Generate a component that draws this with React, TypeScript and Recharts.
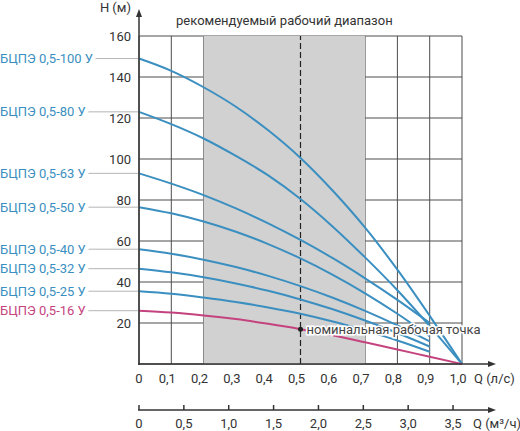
import {
  LineChart,
  Line,
  XAxis,
  YAxis,
  CartesianGrid,
  ReferenceArea,
  ReferenceLine,
  ReferenceDot,
} from "recharts";

// Q, l/s
const flow = [0, 0.1, 0.2, 0.3, 0.4, 0.5, 0.6, 0.7, 0.8, 0.9, 1.0];
// H, m for each pump (null = curve stops)
const head100 = [149, 143, 135, 125.5, 114, 100.5, 84.5, 66.5, 46, 23.5, 0];
const head80 = [123, 117, 110, 101.5, 92, 80.5, 67, 52, 36, 18.5, 0];
const head63 = [93, 88, 82.4, 75.9, 68.6, 60.5, 51.6, 41.8, 31.3, 20, null];
const head50 = [76.5, 73.5, 69.5, 64.5, 58.5, 51.5, 43.5, 34.5, 24.5, 13.5, null];
const head40 = [56, 53.8, 50.9, 47.3, 43, 38, 32.3, 25.9, 18.8, 11, null];
const head32 = [46.5, 44.7, 42.3, 39.3, 35.7, 31.5, 26.7, 21.2, 15.1, 8.5, null];
const head25 = [35.5, 34.3, 32.4, 30.2, 27.6, 24.5, 20.7, 16.3, 11.5, 6, null];
const head16 = [26, 25.1, 23.7, 21.9, 19.6, 17, 14, 10.6, 7.1, 3.5, 0];

const pumpNames = [
  "БЦПЭ 0,5-100 У",
  "БЦПЭ 0,5-80 У",
  "БЦПЭ 0,5-63 У",
  "БЦПЭ 0,5-50 У",
  "БЦПЭ 0,5-40 У",
  "БЦПЭ 0,5-32 У",
  "БЦПЭ 0,5-25 У",
  "БЦПЭ 0,5-16 У",
];
const yTicks = [20, 40, 60, 80, 100, 120, 140, 160];
// second scale, m³/h (1 l/s = 3.6 m³/h)
const m3Ticks = [0, 0.5, 1.0, 1.5, 2.0, 2.5, 3.0, 3.5];
const M3H_PER_LPS = 3.6;

const rangeFrom = 0.2;
const rangeTo = 0.7;
const nominalQ = 0.5;

const BLUE = "#3b8fc0";
const PINK = "#c4437f";
const FONT = "Roboto, sans-serif";

const heads = [head100, head80, head63, head50, head40, head32, head25, head16];
const series = heads.map((values, i) => ({
  key: "p" + i,
  name: pumpNames[i],
  values,
  color: i === heads.length - 1 ? PINK : BLUE,
}));

const data = flow.map((q, i) => {
  const row: any = { q };
  series.forEach((s) => (row[s.key] = s.values[i]));
  return row;
});

const comma = (v: number) => (v === 0 ? "0" : v.toFixed(1).replace(".", ","));

function QTick(props: any) {
  const { x, y, payload } = props;
  const shift = payload.value === 0 ? 0 : -4;
  return (
    <text x={x + shift} y={y + 19} textAnchor="middle" fill="#333" fontSize={13} fontFamily={FONT}>
      {comma(payload.value)}
    </text>
  );
}

function M3Tick(props: any) {
  const { x, y, payload } = props;
  return (
    <g>
      <line x1={x} x2={x} y1={y - 5} y2={y} stroke="#333" strokeWidth={1.5} />
      <text x={x} y={y + 18} textAnchor="middle" fill="#333" fontSize={13} fontFamily={FONT}>
        {comma(Math.round(payload.value * M3H_PER_LPS * 10) / 10)}
      </text>
    </g>
  );
}

// pump name on the left, with a grey leader line to the axis
function startLabel(name: string, color: string) {
  return (p: any) => {
    if (p.index !== 0) return null;
    const x = p.x ?? p.viewBox?.x;
    const y = p.y ?? p.viewBox?.y;
    return (
      <g key={name}>
        <line x1={0} x2={x} y1={y} y2={y} stroke="#b5b5b5" strokeWidth={1} />
        <text
          x={0}
          y={y}
          dy="0.35em"
          fill={color}
          fontSize={13}
          fontFamily={FONT}
          stroke="#fff"
          strokeWidth={9}
          paintOrder="stroke"
        >
          {name}
        </text>
      </g>
    );
  };
}

function NominalLabel(p: any) {
  const vb = p.viewBox || {};
  const cx = vb.x + (vb.width || 0) / 2;
  const cy = vb.y + (vb.height || 0) / 2;
  return (
    <text
      x={cx + 6}
      y={cy}
      dy="0.35em"
      fill="#444"
      fontSize={13}
      fontFamily={FONT}
      stroke="#fff"
      strokeWidth={3}
      paintOrder="stroke"
    >
      номинальная рабочая точка
    </text>
  );
}

export default function App() {
  return (
    <div style={{ position: "absolute", left: 0, top: 0, width: 520, height: 431, background: "#fff" }}>
      <LineChart
        width={520}
        height={431}
        data={data}
        margin={{ top: 36, right: 58, bottom: 0, left: 99 }}
        style={{ fontFamily: FONT }}
      >
        <ReferenceArea
          x1={rangeFrom}
          x2={rangeTo}
          y1={0}
          y2={160}
          fill="#d1d1d1"
          fillOpacity={1}
          stroke="none"
          label={{
            value: "рекомендуемый рабочий диапазон",
            position: "top",
            offset: 11,
            fill: "#333",
            fontSize: 13,
          }}
        />
        <CartesianGrid stroke="#4d4d4d" strokeWidth={1} />
        <XAxis
          dataKey="q"
          type="number"
          domain={[0, 1]}
          ticks={flow}
          interval={0}
          axisLine={false}
          tickLine={false}
          tickSize={0}
          tickMargin={0}
          height={46}
          tick={(p: any) => <QTick {...p} />}
        />
        <XAxis
          xAxisId="m3"
          dataKey="q"
          type="number"
          domain={[0, 1]}
          allowDataOverflow
          ticks={m3Ticks.map((v) => v / M3H_PER_LPS)}
          interval={0}
          axisLine={false}
          tickLine={false}
          tickSize={0}
          tickMargin={0}
          height={21}
          tick={(p: any) => <M3Tick {...p} />}
        />
        <YAxis
          type="number"
          domain={[0, 160]}
          ticks={yTicks}
          interval={0}
          width={40}
          axisLine={false}
          tickLine={false}
          tickSize={0}
          tickMargin={8}
          tick={{ fill: "#333", fontSize: 13, fontFamily: FONT }}
        />
        <ReferenceLine x={nominalQ} stroke="#222" strokeWidth={1.2} strokeDasharray="6 3" />
        {series.map((s) => (
          <Line
            key={s.key}
            type="monotone"
            dataKey={s.key}
            stroke={s.color}
            strokeWidth={2}
            dot={false}
            activeDot={false}
            isAnimationActive={false}
            label={startLabel(s.name, s.color)}
          />
        ))}
        <ReferenceDot
          x={nominalQ}
          y={head16[5]}
          r={2.5}
          fill="#222"
          stroke="none"
          label={(p: any) => <NominalLabel {...p} />}
        />
      </LineChart>
      <svg
        width={520}
        height={431}
        style={{ position: "absolute", left: 0, top: 0, pointerEvents: "none", fontFamily: FONT }}
      >
        <line x1={139} x2={139} y1={365} y2={16} stroke="#333" strokeWidth={1.5} />
        <polygon points="136,17 142,17 139,9" fill="#333" />
        <line x1={138} x2={489} y1={364} y2={364} stroke="#333" strokeWidth={1.5} />
        <polygon points="488,361 488,367 496,364" fill="#333" />
        <line x1={138} x2={489} y1={410} y2={410} stroke="#333" strokeWidth={1.5} />
        <polygon points="488,407 488,413 496,410" fill="#333" />
        <text x={131} y={12} textAnchor="end" fill="#333" fontSize={13}>
          H (м)
        </text>
        <text x={474} y={383} fill="#333" fontSize={13}>
          Q (л/с)
        </text>
        <text x={473} y={428} fill="#333" fontSize={13}>
          Q (м³/ч)
        </text>
      </svg>
    </div>
  );
}
